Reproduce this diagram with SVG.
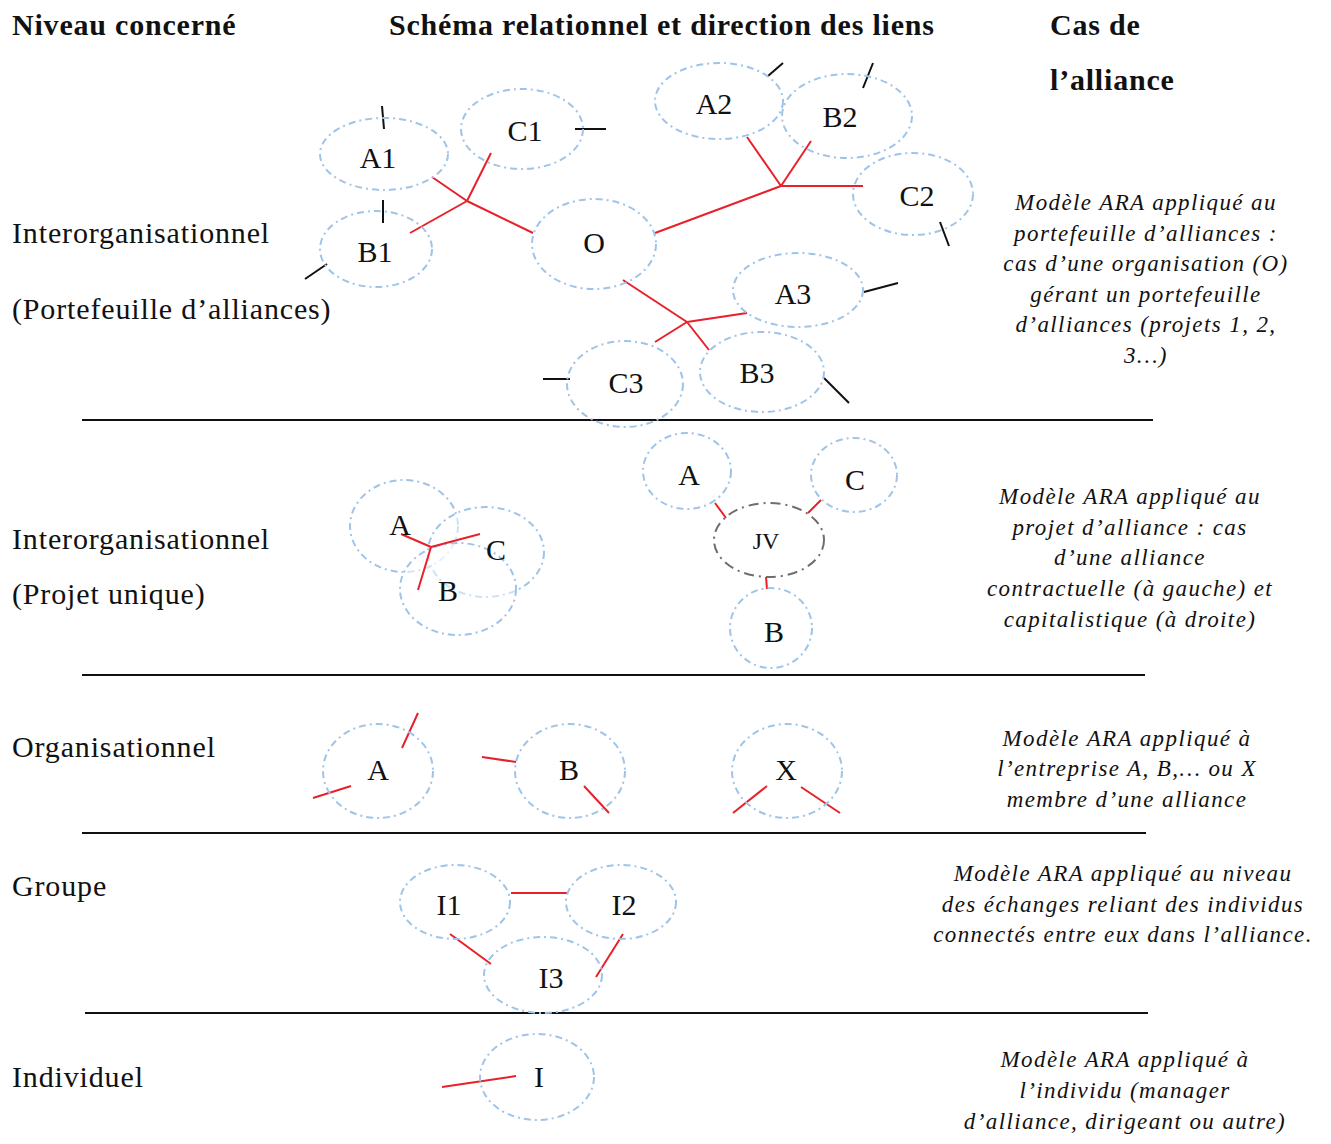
<svg xmlns="http://www.w3.org/2000/svg" width="1331" height="1144" viewBox="0 0 1331 1144">
<style>
.bg{fill:#fff}
.h{font-family:"Liberation Serif","Times New Roman",serif;font-weight:bold;font-size:30px;letter-spacing:0.8px;fill:#111}
.lv{font-family:"Liberation Serif","Times New Roman",serif;font-size:30px;letter-spacing:0.85px;fill:#111}
.n{font-family:"Liberation Serif","Times New Roman",serif;font-size:30px;fill:#111;text-anchor:middle}
.jv{font-family:"Liberation Serif","Times New Roman",serif;font-size:24px;fill:#111;text-anchor:middle}
.d{font-family:"Liberation Serif","Times New Roman",serif;font-style:italic;font-size:23px;letter-spacing:1.4px;fill:#111;text-anchor:middle}
.e{fill:none;stroke:#9fc4e8;stroke-width:2;stroke-dasharray:7 4 2 4}
.ef{fill:#fff;fill-opacity:0.5;stroke:#9fc4e8;stroke-width:2;stroke-dasharray:7 4 2 4}
.g{fill:none;stroke:#6e6e6e;stroke-width:2;stroke-dasharray:10 5 2 5}
.r{stroke:#e8202a;stroke-width:2;fill:none}
.k{stroke:#111;stroke-width:2;fill:none}
.sep{stroke:#111;stroke-width:2}
</style>
<rect class="bg" x="0" y="0" width="1331" height="1144"/>

<g id="headers">
<text class="h" x="12" y="35">Niveau concerné</text>
<text class="h" x="389" y="35">Schéma relationnel et direction des liens</text>
<text class="h" x="1050" y="35">Cas de</text>
<text class="h" x="1050" y="90">l’alliance</text>
</g>

<g id="levels">
<text class="lv" x="12" y="243">Interorganisationnel</text>
<text class="lv" x="12" y="319">(Portefeuille d’alliances)</text>
<text class="lv" x="12" y="549">Interorganisationnel</text>
<text class="lv" x="12" y="604">(Projet unique)</text>
<text class="lv" x="12" y="757">Organisationnel</text>
<text class="lv" x="12" y="896">Groupe</text>
<text class="lv" x="12" y="1087">Individuel</text>
</g>

<g id="separators">
<line class="sep" x1="82" y1="420" x2="1153" y2="420"/>
<line class="sep" x1="82" y1="675" x2="1145" y2="675"/>
<line class="sep" x1="82" y1="833" x2="1146" y2="833"/>
<line class="sep" x1="85" y1="1013" x2="1148" y2="1013"/>
</g>

<g id="connectors">
<path class="r" d="M467 201L432 177M467 201L491 153M467 201L410 233M467 201L533 233"/>
<path class="r" d="M781 186L747 137M781 186L811 141M781 186L863 186M781 186L655 233"/>
<path class="r" d="M687 322L623 280M687 322L747 313M687 322L655 342M687 322L709 350"/>
<path class="k" d="M382 106L384 129M383 200L383 223M305 279L327 264M575 129L606 129M768 76L783 63M863 88L873 63M940 222L949 246M864 292L898 283M824 378L849 403M543 379L570 379"/>
<path class="r" d="M715 503L726 518M821 500L808 513M766 577L767 589"/>
<path class="r" d="M418 713L402 748M313 798L351 786M482 757L516 762M584 786L609 813M767 786L733 813M801 787L840 813"/>
<path class="r" d="M511 893L567 893M450 934L491 964M623 934L596 977"/>
<path class="r" d="M442 1087L516 1076"/>
</g>

<g id="node-A1"><ellipse class="e" cx="384" cy="154" rx="64" ry="36"/><text class="n" x="378" y="168">A1</text></g>
<g id="node-B1"><ellipse class="e" cx="376" cy="249" rx="56" ry="38"/><text class="n" x="375" y="262">B1</text></g>
<g id="node-C1"><ellipse class="e" cx="522" cy="129" rx="61" ry="40"/><text class="n" x="525" y="141">C1</text></g>
<g id="node-O"><ellipse class="e" cx="594" cy="244" rx="62" ry="45"/><text class="n" x="594" y="253">O</text></g>
<g id="node-A2"><ellipse class="e" cx="719" cy="101" rx="64" ry="38"/><text class="n" x="714" y="114">A2</text></g>
<g id="node-B2"><ellipse class="e" cx="847" cy="116" rx="65" ry="42"/><text class="n" x="840" y="127">B2</text></g>
<g id="node-C2"><ellipse class="e" cx="913" cy="194" rx="60" ry="41"/><text class="n" x="917" y="206">C2</text></g>
<g id="node-A3"><ellipse class="e" cx="798" cy="290" rx="65" ry="37"/><text class="n" x="793" y="304">A3</text></g>
<g id="node-B3"><ellipse class="e" cx="762" cy="372" rx="62" ry="40"/><text class="n" x="757" y="383">B3</text></g>
<g id="node-C3"><ellipse class="e" cx="625" cy="384" rx="58" ry="43"/><text class="n" x="626" y="393">C3</text></g>

<g id="node-pu-A"><ellipse class="ef" cx="404" cy="526" rx="54" ry="46"/></g>
<g id="node-pu-C"><ellipse class="ef" cx="486" cy="552" rx="58" ry="45"/></g>
<g id="node-pu-B"><ellipse class="ef" cx="458" cy="589" rx="58" ry="46"/></g>
<g id="pu-links"><path class="r" d="M431 547L401 534M431 547L480 534M431 547L418 590"/></g>
<g id="pu-labels"><text class="n" x="400" y="535">A</text><text class="n" x="496" y="560">C</text><text class="n" x="448" y="601">B</text></g>

<g id="node-jv-A"><ellipse class="e" cx="687" cy="471" rx="44" ry="38"/><text class="n" x="689" y="485">A</text></g>
<g id="node-jv-C"><ellipse class="e" cx="854" cy="475" rx="43" ry="37"/><text class="n" x="855" y="490">C</text></g>
<g id="node-JV"><ellipse class="g" cx="769" cy="540" rx="55" ry="37"/><text class="jv" x="766" y="549">JV</text></g>
<g id="node-jv-B"><ellipse class="e" cx="771" cy="628" rx="41" ry="40"/><text class="n" x="774" y="642">B</text></g>

<g id="node-org-A"><ellipse class="e" cx="378" cy="771" rx="55" ry="47"/><text class="n" x="378" y="780">A</text></g>
<g id="node-org-B"><ellipse class="e" cx="570" cy="771" rx="55" ry="47"/><text class="n" x="569" y="780">B</text></g>
<g id="node-org-X"><ellipse class="e" cx="787" cy="771" rx="55" ry="47"/><text class="n" x="786" y="780">X</text></g>

<g id="node-I1"><ellipse class="e" cx="455" cy="902" rx="55" ry="37"/><text class="n" x="449" y="915">I1</text></g>
<g id="node-I2"><ellipse class="e" cx="621" cy="902" rx="55" ry="37"/><text class="n" x="624" y="915">I2</text></g>
<g id="node-I3"><ellipse class="e" cx="543" cy="975" rx="59" ry="38"/><text class="n" x="551" y="988">I3</text></g>

<g id="node-I"><ellipse class="e" cx="537" cy="1077" rx="57" ry="43"/><text class="n" x="539" y="1087">I</text></g>

<g id="descriptions">
<text class="d" x="1146" y="210">Modèle ARA appliqué au</text>
<text class="d" x="1146" y="241">portefeuille d’alliances :</text>
<text class="d" x="1146" y="271">cas d’une organisation (O)</text>
<text class="d" x="1146" y="302">gérant un portefeuille</text>
<text class="d" x="1146" y="332">d’alliances (projets 1, 2,</text>
<text class="d" x="1146" y="363">3…)</text>

<text class="d" x="1130" y="504">Modèle ARA appliqué au</text>
<text class="d" x="1130" y="535">projet d’alliance : cas</text>
<text class="d" x="1130" y="565">d’une alliance</text>
<text class="d" x="1130" y="596">contractuelle (à gauche) et</text>
<text class="d" x="1130" y="627">capitalistique (à droite)</text>

<text class="d" x="1127" y="746">Modèle ARA appliqué à</text>
<text class="d" x="1127" y="776">l’entreprise A, B,… ou X</text>
<text class="d" x="1127" y="807">membre d’une alliance</text>

<text class="d" x="1123" y="881">Modèle ARA appliqué au niveau</text>
<text class="d" x="1123" y="912">des échanges reliant des individus</text>
<text class="d" x="1123" y="942">connectés entre eux dans l’alliance.</text>

<text class="d" x="1125" y="1067">Modèle ARA appliqué à</text>
<text class="d" x="1125" y="1098">l’individu (manager</text>
<text class="d" x="1125" y="1129">d’alliance, dirigeant ou autre)</text>
</g>
</svg>
